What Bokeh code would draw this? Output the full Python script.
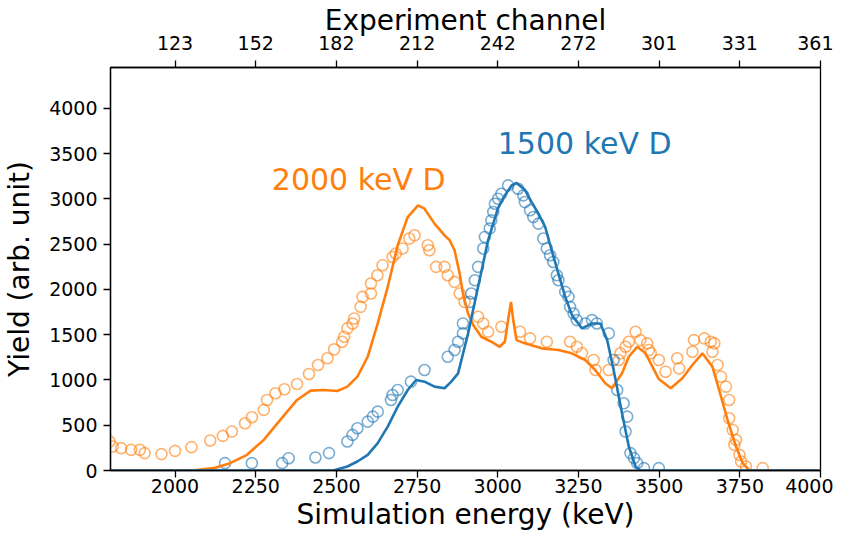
from bokeh.plotting import figure
from bokeh.models import LinearAxis, FixedTicker, Range1d, Title
from bokeh.core.properties import value
from bokeh.embed import file_html
from bokeh.resources import INLINE

# ---------------- data ----------------
x_ticks = [2000, 2250, 2500, 2750, 3000, 3250, 3500, 3750, 4000]
channel_labels = ["123", "152", "182", "212", "242", "272", "301", "331", "361"]
y_ticks = [0, 500, 1000, 1500, 2000, 2500, 3000, 3500, 4000]

# 2000 keV D experiment (circles)
exp2000_x = [1797, 1807, 1833, 1864, 1891, 1906, 1958, 2000, 2051, 2109, 2148, 2176,
             2217, 2238, 2275, 2285, 2311, 2339, 2378, 2415, 2443, 2472, 2493, 2518,
             2524, 2534, 2550, 2555, 2575, 2581, 2607, 2607, 2627, 2643, 2674, 2684,
             2705, 2726, 2742, 2783, 2788, 2809, 2835, 2845, 2866, 2882, 2897, 2939,
             2955, 2970, 3011, 3069, 3100, 3152, 3224, 3245, 3261, 3297, 3303, 3344,
             3375, 3380, 3396, 3406, 3427, 3442, 3463, 3468, 3474, 3499, 3520, 3556,
             3562, 3603, 3608, 3640, 3660, 3671, 3665, 3681, 3692, 3707, 3717, 3717,
             3728, 3738, 3733, 3749, 3754, 3769, 3821]
exp2000_y = [320, 265, 247, 228, 228, 192, 181, 217, 258, 331, 382, 430,
             522, 588, 669, 779, 853, 897, 955, 1066, 1165, 1239, 1338, 1422,
             1477, 1569, 1624, 1679, 1807, 1917, 1954, 2065, 2156, 2267, 2358, 2395,
             2451, 2561, 2597, 2487, 2432, 2248, 2248, 2156, 2083, 1954, 1862, 1697,
             1624, 1532, 1587, 1532, 1459, 1422, 1422, 1366, 1294, 1220, 1110, 1110,
             1220, 1294, 1366, 1422, 1532, 1440, 1404, 1330, 1294, 1220, 1091, 1239,
             1128, 1311, 1440, 1459, 1422, 1404, 1311, 1165, 1036, 926, 779, 577,
             448, 338, 283, 173, 99, 44, 26]

# 1500 keV D experiment (circles)
exp1500_x = [2155, 2238, 2332, 2352, 2435, 2477, 2534, 2550, 2565, 2597, 2613, 2628,
             2669, 2674, 2690, 2731, 2773, 2845, 2866, 2877, 2892, 2892, 2913, 2918,
             2929, 2939, 2955, 2960, 2975, 2980, 2986, 2991, 3001, 3011, 3032, 3063,
             3079, 3084, 3100, 3110, 3126, 3141, 3152, 3162, 3172, 3183, 3188, 3209,
             3219, 3224, 3235, 3245, 3271, 3292, 3307, 3344, 3359, 3370, 3390, 3401,
             3396, 3411, 3422, 3432, 3453, 3499]
exp1500_y = [81, 81, 81, 136, 143, 192, 320, 393, 467, 540, 595, 650,
             779, 834, 889, 981, 1110, 1256, 1330, 1422, 1514, 1624, 1862, 1954,
             2101, 2248, 2451, 2579, 2671, 2762, 2854, 2946, 3001, 3056, 3148, 3111,
             3038, 2964, 2873, 2799, 2726, 2561, 2451, 2377, 2303, 2156, 2101, 1972,
             1917, 1807, 1734, 1661, 1624, 1661, 1624, 1514, 1220, 889, 742, 595,
             430, 192, 137, 81, 26, 26]

# 2000 keV D simulation (line)
sim2000_x = [1800, 1950, 2066, 2119, 2171, 2223, 2275, 2326, 2378, 2420, 2461, 2503,
             2534, 2565, 2597, 2628, 2659, 2690, 2721, 2753, 2773, 2804, 2835, 2851,
             2866, 2882, 2892, 2908, 2924, 2949, 2980, 3006, 3022, 3032, 3041, 3048,
             3058, 3084, 3136, 3188, 3229, 3271, 3302, 3333, 3354, 3385, 3406, 3432,
             3458, 3499, 3536, 3572, 3603, 3634, 3665, 3686, 3712, 3738, 3759, 3780,
             4000]
sim2000_y = [0, 0, 5, 26, 81, 173, 338, 559, 779, 882, 889, 878,
             926, 1036, 1256, 1624, 2028, 2487, 2799, 2928, 2891, 2726, 2597, 2542,
             2432, 2175, 1954, 1734, 1606, 1477, 1422, 1366, 1422, 1661, 1862, 1661,
             1440, 1404, 1349, 1330, 1294, 1220, 1110, 963, 908, 1073, 1256, 1366,
             1294, 1010, 908, 1018, 1165, 1294, 1146, 889, 559, 265, 81, 0,
             0]

# 1500 keV D simulation (line)
sim1500_x = [1800, 2490, 2534, 2565, 2597, 2628, 2659, 2690, 2721, 2747, 2773, 2804,
             2835, 2856, 2877, 2908, 2939, 2970, 3001, 3022, 3043, 3058, 3084, 3105,
             3126, 3147, 3167, 3188, 3209, 3230, 3261, 3292, 3318, 3339, 3359, 3385,
             3406, 3427, 3442, 4000]
sim1500_y = [0, 0, 44, 99, 173, 302, 485, 705, 889, 999, 981, 926,
             908, 981, 1073, 1514, 2028, 2542, 2900, 3038, 3148, 3175, 3100, 2964,
             2836, 2689, 2432, 2175, 1917, 1716, 1569, 1624, 1624, 1440, 1110, 632,
             265, 44, 0, 0]

labels_text = ["2000 keV D", "1500 keV D"]
labels_x = [2300, 3000]
labels_y = [3100, 3500]

BLUE = "#1f77b4"
ORANGE = "#ff7f0e"
FONT = "DejaVu Sans"

# ---------------- figure ----------------
p = figure(output_backend="svg", toolbar_location=None,
           width=833, height=530,
           x_range=Range1d(1800, 4000), y_range=Range1d(0, 4450),
           min_border_left=106, min_border_top=59, min_border_right=13,
           min_border_bottom=54, background_fill_color="white",
           border_fill_color="white")
p.xgrid.visible = False
p.ygrid.visible = False
p.outline_line_color = "black"
p.outline_line_width = 1.3

p.scatter(exp2000_x, exp2000_y, marker="circle", size=11, fill_color=None,
          line_color=ORANGE, line_alpha=0.6, line_width=1.6)
p.scatter(exp1500_x, exp1500_y, marker="circle", size=11, fill_color=None,
          line_color=BLUE, line_alpha=0.6, line_width=1.6)
p.line(sim2000_x, sim2000_y, line_color=ORANGE, line_width=2.6)
p.line(sim1500_x, sim1500_y, line_color=BLUE, line_width=2.6)

p.text(x=[labels_x[0]], y=[labels_y[0]], text=[labels_text[0]],
       text_font=value(FONT), text_font_size="30px", text_color=ORANGE,
       text_align="left", text_baseline="alphabetic", y_offset=-10)
p.text(x=[labels_x[1]], y=[labels_y[1]], text=[labels_text[1]],
       text_font=value(FONT), text_font_size="30px", text_color=BLUE,
       text_align="left", text_baseline="alphabetic", y_offset=-10)

top_axis = LinearAxis(axis_label="Experiment channel")
top_axis.ticker = FixedTicker(ticks=x_ticks)
top_axis.major_label_overrides = {t: l for t, l in zip(x_ticks, channel_labels)}
p.add_layout(top_axis, "above")

p.xaxis.ticker = FixedTicker(ticks=x_ticks)
p.yaxis.ticker = FixedTicker(ticks=y_ticks)
p.yaxis.axis_label = "Yield (arb. unit)"

for ax in p.xaxis + p.yaxis:
    ax.axis_line_color = "black"
    ax.axis_line_width = 1.3
    ax.major_tick_line_color = "black"
    ax.major_tick_line_width = 1.3
    ax.major_tick_out = 7
    ax.major_tick_in = 0
    ax.minor_tick_line_color = None
    ax.major_label_text_font = FONT
    ax.major_label_text_font_size = "19px"
    ax.major_label_text_color = "black"
    ax.axis_label_text_font = FONT
    ax.axis_label_text_font_size = "28px"
    ax.axis_label_text_font_style = "normal"
    ax.axis_label_text_color = "black"

top_axis.major_label_standoff = 11
top_axis.axis_label_standoff = -4
p.below[0].major_label_standoff = 1
p.yaxis.major_label_standoff = 6
p.yaxis.axis_label_standoff = 10

# x-axis title placed under the bottom axis, glyph at the bottom of its box
x_title = Title(text="Simulation energy (keV)", align="center",
                vertical_align="bottom", text_font=FONT,
                text_font_size="28px", text_font_style="normal",
                text_color="black", standoff=0, offset=0)
p.add_layout(x_title, "below")

open("out.html", "w").write(file_html(p, INLINE))
